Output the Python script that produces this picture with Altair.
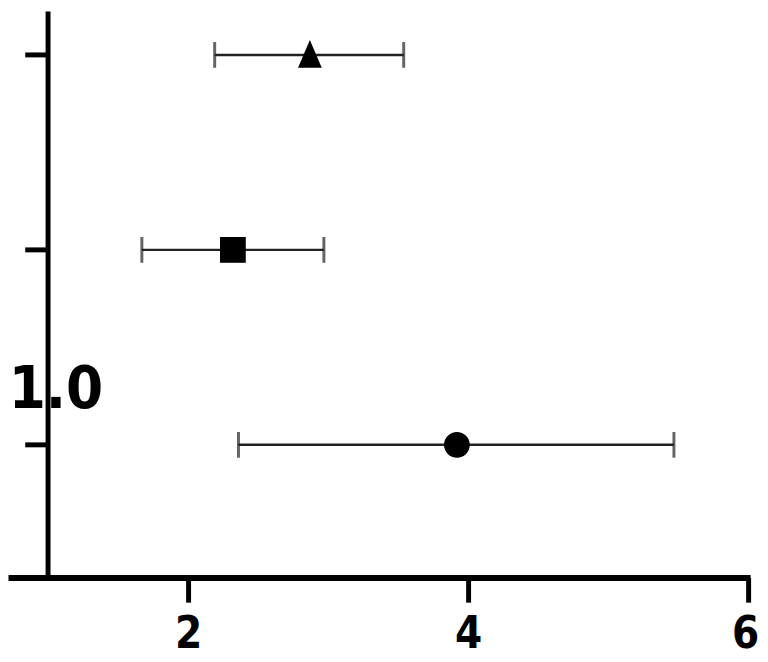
import altair as alt
import pandas as pd

# ---- data ----
row_pos = [3, 2, 1]
shape_names = ["triangle", "square", "circle"]
estimate = [2.87, 2.32, 3.92]
ci_low = [2.19, 1.67, 2.36]
ci_high = [3.54, 2.97, 5.47]
x_ticks = [2, 4, 6]
ref_value = 1.0
ref_label = "1.0"
ref_label_y = 1.19
y_tick_from = 0.837

X_DOMAIN = [0.714, 6.014]
Y_DOMAIN = [0.32, 3.223]

FONT = "'Liberation Sans Narrow', 'DejaVu Sans Condensed', 'Arial Narrow', sans-serif"
TRI = "M0,-1.15L0.92,1L-0.92,1Z"

df = pd.DataFrame({
    "row": row_pos, "shape": shape_names,
    "est": estimate, "lo": ci_low, "hi": ci_high,
})
ref_df = pd.DataFrame({"x": [ref_value], "y0": [Y_DOMAIN[0]], "y1": [Y_DOMAIN[1]],
                       "ly": [ref_label_y], "label": [ref_label]})
tick_df = pd.DataFrame({"row": row_pos, "x0": [y_tick_from] * 3, "x1": [ref_value] * 3})

xs = alt.Scale(domain=X_DOMAIN, nice=False, zero=False)
ys = alt.Scale(domain=Y_DOMAIN, nice=False, zero=False)

x_axis = alt.Axis(values=x_ticks, format="d", grid=False, title=None,
                  domainWidth=6, domainColor="black", tickColor="black",
                  tickWidth=5, tickSize=25, labelFontSize=44, labelFont=FONT,
                  labelFontWeight="bold", labelColor="black",
                  labelBaseline="alphabetic", labelPadding=46, labelFlush=False,
                  labelOffset=alt.condition("datum.value == 6", alt.value(-3), alt.value(0)))

bars = alt.Chart(df).mark_rule(color="#222", strokeWidth=2.5).encode(
    x=alt.X("lo:Q", scale=xs, axis=x_axis),
    x2="hi:Q",
    y=alt.Y("row:Q", scale=ys, axis=None),
)
cap_lo = alt.Chart(df).mark_tick(orient="vertical", size=26, thickness=3, color="#222").encode(
    x=alt.X("lo:Q", scale=xs), y=alt.Y("row:Q", scale=ys))
cap_hi = alt.Chart(df).mark_tick(orient="vertical", size=26, thickness=3, color="#222").encode(
    x=alt.X("hi:Q", scale=xs), y=alt.Y("row:Q", scale=ys))
points = alt.Chart(df).mark_point(filled=True, color="black", opacity=1, strokeWidth=0).encode(
    x=alt.X("est:Q", scale=xs),
    y=alt.Y("row:Q", scale=ys),
    shape=alt.Shape("shape:N", scale=alt.Scale(domain=shape_names, range=[TRI, "square", "circle"]), legend=None),
    size=alt.Size("shape:N", scale=alt.Scale(domain=shape_names, range=[680, 680, 700]), legend=None),
)
reflabel = alt.Chart(ref_df).mark_text(font=FONT, fontSize=60, fontWeight="bold", dx=8,
                                       color="black", align="center", baseline="alphabetic").encode(
    x=alt.X("x:Q", scale=xs), y=alt.Y("ly:Q", scale=ys), text="label:N")
yline = alt.Chart(ref_df).mark_rule(color="black", strokeWidth=5).encode(
    x=alt.X("x:Q", scale=xs), y=alt.Y("y0:Q", scale=ys), y2="y1:Q")
yticks = alt.Chart(tick_df).mark_rule(color="black", strokeWidth=5).encode(
    x=alt.X("x0:Q", scale=xs), x2="x1:Q", y=alt.Y("row:Q", scale=ys))

chart = alt.layer(bars, cap_lo, cap_hi, reflabel, yline, yticks, points).properties(
    width=750, height=572,
    autosize=alt.AutoSizeParams(type="none"),
    padding={"left": 0, "top": 0, "right": 10, "bottom": 82},
).configure_view(stroke=None)

chart.save("out.html", embed_options={"renderer": "svg", "actions": False})
